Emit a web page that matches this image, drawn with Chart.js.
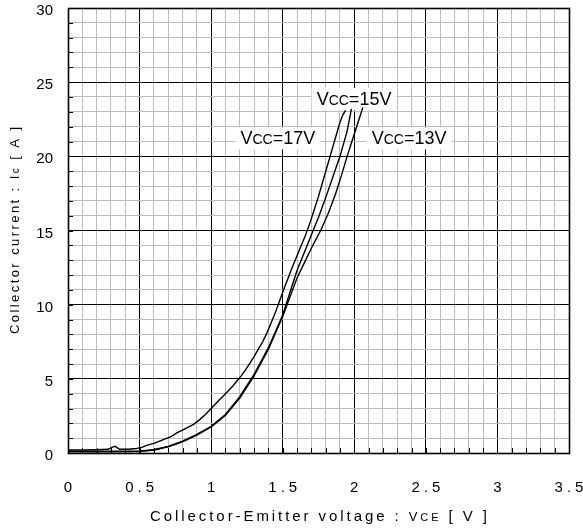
<!DOCTYPE html>
<html><head><meta charset="utf-8">
<script src="https://cdn.jsdelivr.net/npm/chart.js@4/dist/chart.umd.min.js"></script>
<style>html,body{margin:0;padding:0;background:#fff}#wrap{width:583px;height:529px}</style>
</head><body><div id="wrap"><canvas id="c" width="583" height="529"></canvas></div>
<script>
// ---- data ----
const seriesNames = ['VCC=17V', 'VCC=15V', 'VCC=13V'];

const v17X = [0, 0.1, 0.2, 0.28, 0.31, 0.33, 0.36, 0.42, 0.48, 0.52, 0.56, 0.60, 0.64, 0.68, 0.72, 0.76, 0.80, 0.84, 0.88, 0.92, 0.96, 1.00, 1.03, 1.06, 1.09, 1.12, 1.15, 1.18, 1.21, 1.24, 1.27, 1.30, 1.33, 1.36, 1.39, 1.42, 1.45, 1.48, 1.51, 1.54, 1.57, 1.60, 1.63, 1.66, 1.69, 1.72, 1.75, 1.78, 1.81, 1.84, 1.87, 1.90, 1.92, 1.94];
const v17Y = [0.2, 0.2, 0.22, 0.25, 0.4, 0.45, 0.25, 0.25, 0.3, 0.4, 0.55, 0.65, 0.8, 0.95, 1.1, 1.35, 1.55, 1.75, 1.95, 2.25, 2.6, 3.0, 3.3, 3.6, 3.9, 4.2, 4.5, 4.85, 5.2, 5.6, 6.05, 6.5, 7.0, 7.5, 8.1, 8.8, 9.5, 10.3, 11.1, 11.85, 12.6, 13.3, 14.0, 14.7, 15.5, 16.4, 17.3, 18.3, 19.3, 20.3, 21.3, 22.3, 22.8, 23.1];

const v15X = [0, 0.3, 0.5, 0.6, 0.7, 0.8, 0.9, 1.0, 1.1, 1.2, 1.3, 1.4, 1.5, 1.55, 1.6, 1.65, 1.7, 1.75, 1.8, 1.85, 1.9, 1.95, 1.98];
const v15Y = [0.12, 0.12, 0.13, 0.22, 0.45, 0.8, 1.25, 1.8, 2.6, 3.8, 5.3, 7.1, 9.3, 10.8, 12.3, 13.5, 14.7, 15.9, 17.2, 18.6, 20.0, 21.7, 23.2];

const v13X = [0, 0.3, 0.5, 0.6, 0.7, 0.8, 0.9, 1.0, 1.1, 1.2, 1.3, 1.4, 1.5, 1.55, 1.6, 1.65, 1.7, 1.77, 1.82, 1.87, 1.91, 1.95, 2.0, 2.03, 2.06];
const v13Y = [0.08, 0.08, 0.1, 0.2, 0.42, 0.75, 1.2, 1.75, 2.55, 3.7, 5.2, 7.0, 9.2, 10.5, 11.8, 12.8, 13.8, 15.1, 16.2, 17.5, 18.7, 20.0, 21.5, 22.4, 23.3];

const xTickLabels = ['0', '0.5', '1', '1.5', '2', '2.5', '3', '3.5'];
const yTickLabels = ['0', '5', '10', '15', '20', '25', '30'];
const xTitle = 'Collector-Emitter voltage : VCE [ V ]';
const yTitle = 'Collector current : Ic [ A ]';

// ---- helpers ----
const pts = (xs, ys) => xs.map((x, i) => ({x: x, y: ys[i]}));
const FONT = '"Liberation Sans", Arial, sans-serif';
const isMult = (v, m) => Math.abs(v / m - Math.round(v / m)) < 1e-6;

function segWidth(ctx, segs, ls) {
  let w = 0;
  segs.forEach(([t, size]) => {
    ctx.font = size + 'px ' + FONT;
    for (const ch of t) w += ctx.measureText(ch).width + ls;
  });
  return w - ls;
}
function drawSegs(ctx, segs, x, y, ls) {
  let cx = x;
  segs.forEach(([t, size]) => {
    ctx.font = size + 'px ' + FONT;
    for (const ch of t) { ctx.fillText(ch, cx, y); cx += ctx.measureText(ch).width + ls; }
  });
}
function nameSegs(name, big, small) {
  return [[name.slice(0, 1), big], [name.slice(1, 3), small], [name.slice(3), big]];
}

const deco = {
  id: 'deco',
  beforeDatasetsDraw(chart) {
    const ctx = chart.ctx, xs = chart.scales.x, ys = chart.scales.y;
    const pos = [[1.205, 20.8], [1.737, 23.45], [2.122, 20.8]];
    ctx.save();
    ctx.textBaseline = 'alphabetic'; ctx.textAlign = 'left';
    seriesNames.forEach((n, i) => {
      const segs = nameSegs(n, 18, 14);
      const px = xs.getPixelForValue(pos[i][0]);
      const py = ys.getPixelForValue(pos[i][1]);
      const w = segWidth(ctx, segs, 0);
      ctx.fillStyle = '#fff';
      ctx.fillRect(px - 5, py - 17, w + 10, 22);
      ctx.fillStyle = '#000';
      drawSegs(ctx, segs, px, py, 0);
    });
    ctx.restore();
  },
  afterDatasetsDraw(chart) {
    const ctx = chart.ctx, a = chart.chartArea, xs = chart.scales.x, ys = chart.scales.y;
    ctx.save();
    ctx.strokeStyle = '#000';
    ctx.lineWidth = 1;
    ctx.beginPath();
    xs.ticks.forEach(t => {
      const p = Math.round(xs.getPixelForValue(t.value)) + 0.5;
      ctx.moveTo(p, a.bottom); ctx.lineTo(p, a.bottom - 5);
    });
    ys.ticks.forEach(t => {
      const p = Math.round(ys.getPixelForValue(t.value)) + 0.5;
      ctx.moveTo(a.left, p); ctx.lineTo(a.left + 5, p);
    });
    ctx.stroke();
    ctx.lineWidth = 1.6;
    ctx.strokeRect(Math.round(a.left) + 0.5, Math.round(a.top) + 0.5, Math.round(a.right - a.left), Math.round(a.bottom - a.top));
    ctx.restore();
  },
  afterDraw(chart) {
    const ctx = chart.ctx, a = chart.chartArea, xs = chart.scales.x, ys = chart.scales.y;
    ctx.save();
    ctx.fillStyle = '#000';
    ctx.textBaseline = 'middle';
    ctx.font = '15px ' + FONT;
    ctx.textAlign = 'right';
    yTickLabels.forEach(l => {
      ctx.fillText(l, a.left - 15, ys.getPixelForValue(parseFloat(l)) + 3);
    });
    ctx.textAlign = 'left';
    xTickLabels.forEach(l => {
      const segs = [[l, 15]];
      const w = segWidth(ctx, segs, 4);
      drawSegs(ctx, segs, xs.getPixelForValue(parseFloat(l)) - w / 2, a.bottom + 35, 4);
    });
    ctx.textBaseline = 'alphabetic';
    const xi = xTitle.indexOf('VCE');
    const xSegs = [[xTitle.slice(0, xi), 15], ['V', 13], ['CE', 11], [xTitle.slice(xi + 3), 15]];
    let base = segWidth(ctx, xSegs, 0);
    let ls = (337 - base) / (xTitle.length - 1);
    let w = segWidth(ctx, xSegs, ls);
    const cx = (a.left + a.right) / 2;
    drawSegs(ctx, xSegs, cx - w / 2, a.bottom + 68, ls);
    const yi = yTitle.indexOf('Ic');
    const ySegs = [[yTitle.slice(0, yi), 13], ['I', 13], ['c', 10], [yTitle.slice(yi + 2), 13]];
    base = segWidth(ctx, ySegs, 0);
    ls = (207 - base) / (yTitle.length - 1);
    w = segWidth(ctx, ySegs, ls);
    ctx.translate(19, (a.top + a.bottom) / 2);
    ctx.rotate(-Math.PI / 2);
    drawSegs(ctx, ySegs, -w / 2, 0, ls);
    ctx.restore();
  }
};

const gridColor = (m) => (c) => isMult(c.tick.value, m) ? '#000' : '#bcbcbc';

new Chart(document.getElementById('c'), {
  type: 'scatter',
  data: {
    datasets: [
      {label: seriesNames[0], data: pts(v17X, v17Y)},
      {label: seriesNames[1], data: pts(v15X, v15Y)},
      {label: seriesNames[2], data: pts(v13X, v13Y)}
    ].map(d => Object.assign({showLine: true, borderColor: '#000', backgroundColor: '#000', borderWidth: 1.4, pointRadius: 0, fill: false, tension: 0}, d))
  },
  options: {
    responsive: false,
    animation: false,
    devicePixelRatio: 1,
    layout: {padding: {left: 0, top: 8, right: 14, bottom: 0}},
    plugins: {legend: {display: false}, tooltip: {enabled: false}},
    scales: {
      x: {
        type: 'linear', min: 0, max: 3.5,
        ticks: {stepSize: 0.1, display: false, autoSkip: false},
        grid: {color: gridColor(0.5), lineWidth: 1, drawTicks: false},
        border: {display: false},
        afterFit: s => { s.height = 76; }
      },
      y: {
        type: 'linear', min: 0, max: 30,
        ticks: {stepSize: 1, display: false, autoSkip: false},
        grid: {color: gridColor(5), lineWidth: 1, drawTicks: false},
        border: {display: false},
        afterFit: s => { s.width = 68; }
      }
    }
  },
  plugins: [deco]
});
</script>
</body></html>
